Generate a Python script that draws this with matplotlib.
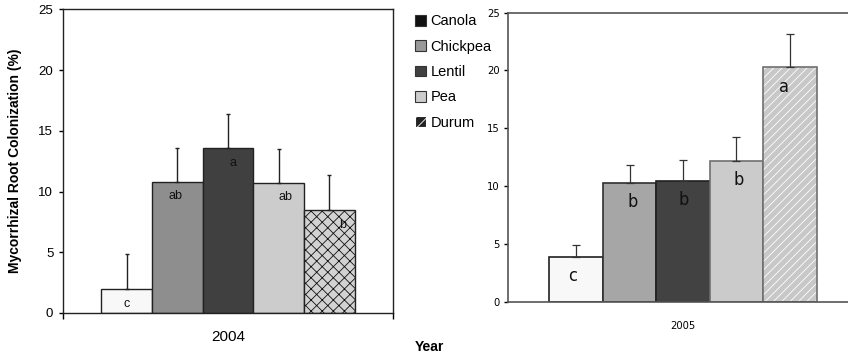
import matplotlib
matplotlib.use("Agg")
import matplotlib.pyplot as plt
import matplotlib.patches as mpatches
import numpy as np

plt.rcParams['font.family'] = ['Liberation Sans', 'DejaVu Sans']
plt.rcParams['hatch.linewidth'] = 0.6

crops = ["Canola", "Chickpea", "Lentil", "Pea", "Durum"]

# 2004 values (means, upper error)
vals_2004 = [1.95, 10.8, 13.57, 10.73, 8.48]
err_2004 = [2.88, 2.77, 2.83, 2.75, 2.86]
letters_2004 = ["c", "ab", "a", "ab", "b"]

# 2005
vals_2005 = [3.89, 10.3, 10.47, 12.2, 20.3]
err_2005 = [0.99, 1.53, 1.81, 2.02, 2.83]
letters_2005 = ["c", "b", "b", "b", "a"]

cols_2004 = ["#f8f8f8", "#8e8e8e", "#404040", "#cccccc", "#d2d2d2"]
cols_2005 = ["#f8f8f8", "#a6a6a6", "#424242", "#cbcbcb", "#c8c8c8"]
edges_2005 = ["#202020", "#303030", "#202020", "#707070", "#707070"]

narrow = ["Liberation Sans Narrow", "DejaVu Sans"]

fig = plt.figure(figsize=(8.48, 3.58), dpi=100)

x = np.arange(len(crops)) - 2

# ---------- left panel 2004
ax1 = fig.add_axes([0.0743, 0.1257, 0.3892, 0.8478])
for i in range(len(crops)):
    if crops[i] == "Durum":
        ax1.bar(x[i], vals_2004[i], width=1.0, color=cols_2004[i], edgecolor="#111111",
                hatch="xxx", linewidth=0)
        ax1.bar(x[i], vals_2004[i], width=1.0, fill=False, edgecolor="#222222", linewidth=1.0)
    else:
        ax1.bar(x[i], vals_2004[i], width=1.0, color=cols_2004[i], edgecolor="#222222", linewidth=1.0)
ax1.errorbar(x, vals_2004, yerr=[np.zeros(5), err_2004], fmt="none", ecolor="#222222",
             elinewidth=1.0, capsize=1.5, capthick=1.0)
lx_off = [0, -0.04, 0.09, 0.13, 0.26]
for i in range(len(crops)):
    ax1.text(x[i] + lx_off[i], vals_2004[i] - 1.2, letters_2004[i], ha="center", va="center",
             fontsize=9, color="#111111")

ax1.set_xlim(-3.255, 3.255)
ax1.set_ylim(0, 25)
ax1.set_yticks([0, 5, 10, 15, 20, 25])
ax1.set_xticks([-3.255, 3.255])
ax1.set_xticklabels(["", ""])
ax1.set_xticks([0], minor=True)
ax1.set_xticklabels(["2004"], minor=True, fontsize=11)
ax1.tick_params(axis="x", which="minor", length=0, pad=12)
ax1.tick_params(axis="x", which="major", length=4, direction="out", width=1)
ax1.tick_params(axis="y", length=3, direction="out", labelsize=9.5, pad=4, width=1)
for s in ax1.spines.values():
    s.set_linewidth(1.0)
    s.set_color("#222222")
ax1.set_ylabel("Mycorrhizal Root Colonization (%)", fontsize=10, fontweight="bold", labelpad=12)

# ---------- right panel 2005
ax2 = fig.add_axes([0.5994, 0.1573, 0.412, 0.8073])
for i in range(len(crops)):
    if crops[i] == "Durum":
        ax2.bar(x[i], vals_2005[i], width=1.0, color=cols_2005[i], edgecolor="white",
                hatch="////", linewidth=0)
        ax2.bar(x[i], vals_2005[i], width=1.0, fill=False, edgecolor=edges_2005[i], linewidth=1.2)
    else:
        ax2.bar(x[i], vals_2005[i], width=1.0, color=cols_2005[i], edgecolor=edges_2005[i], linewidth=1.2)
ax2.errorbar(x, vals_2005, yerr=[np.zeros(5), err_2005], fmt="none", ecolor="#333333",
             elinewidth=0.9, capsize=3, capthick=0.9)
rx_off = [-0.06, 0.06, 0.02, 0.05, -0.1]
for i in range(len(crops)):
    ax2.text(x[i] + rx_off[i], vals_2005[i] - 1.7, letters_2005[i], ha="center", va="center",
             fontsize=13, color="#111111", family=narrow, stretch="condensed")

ax2.set_xlim(-3.27, 3.27)
ax2.set_ylim(0, 25)
ax2.set_yticks([0, 5, 10, 15, 20, 25])
ax2.set_yticklabels(["0", "5", "10", "15", "20", "25"], family=narrow, stretch="condensed", fontsize=8)
ax2.set_xticks([0])
ax2.set_xticklabels(["2005"], fontsize=8, family=narrow, stretch="condensed")
ax2.tick_params(axis="x", length=0, pad=14)
ax2.tick_params(axis="y", length=3, direction="out", pad=3, width=1)
for s in ax2.spines.values():
    s.set_linewidth(1.2)
    s.set_color("#555555")

# ---------- legend
leg_cols = ["#111111", "#999999", "#404040", "#cccccc", "#222222"]
handles = []
for i in range(len(crops)):
    if crops[i] == "Durum":
        h = mpatches.Patch(facecolor=leg_cols[i], edgecolor="white", hatch="///", linewidth=0.8)
    else:
        h = mpatches.Patch(facecolor=leg_cols[i], edgecolor="#333333", linewidth=0.8)
    handles.append(h)
fig.legend(handles, crops, loc="upper left", bbox_to_anchor=(0.489, 0.96), frameon=False,
           fontsize=10.5, handlelength=0.75, handleheight=0.75, handletextpad=0.35,
           labelspacing=0.78, borderpad=0, borderaxespad=0)

fig.text(0.506, 0.03, "Year", fontsize=10, fontweight="bold", ha="center", va="center")

fig.savefig("out.png", dpi=100)
